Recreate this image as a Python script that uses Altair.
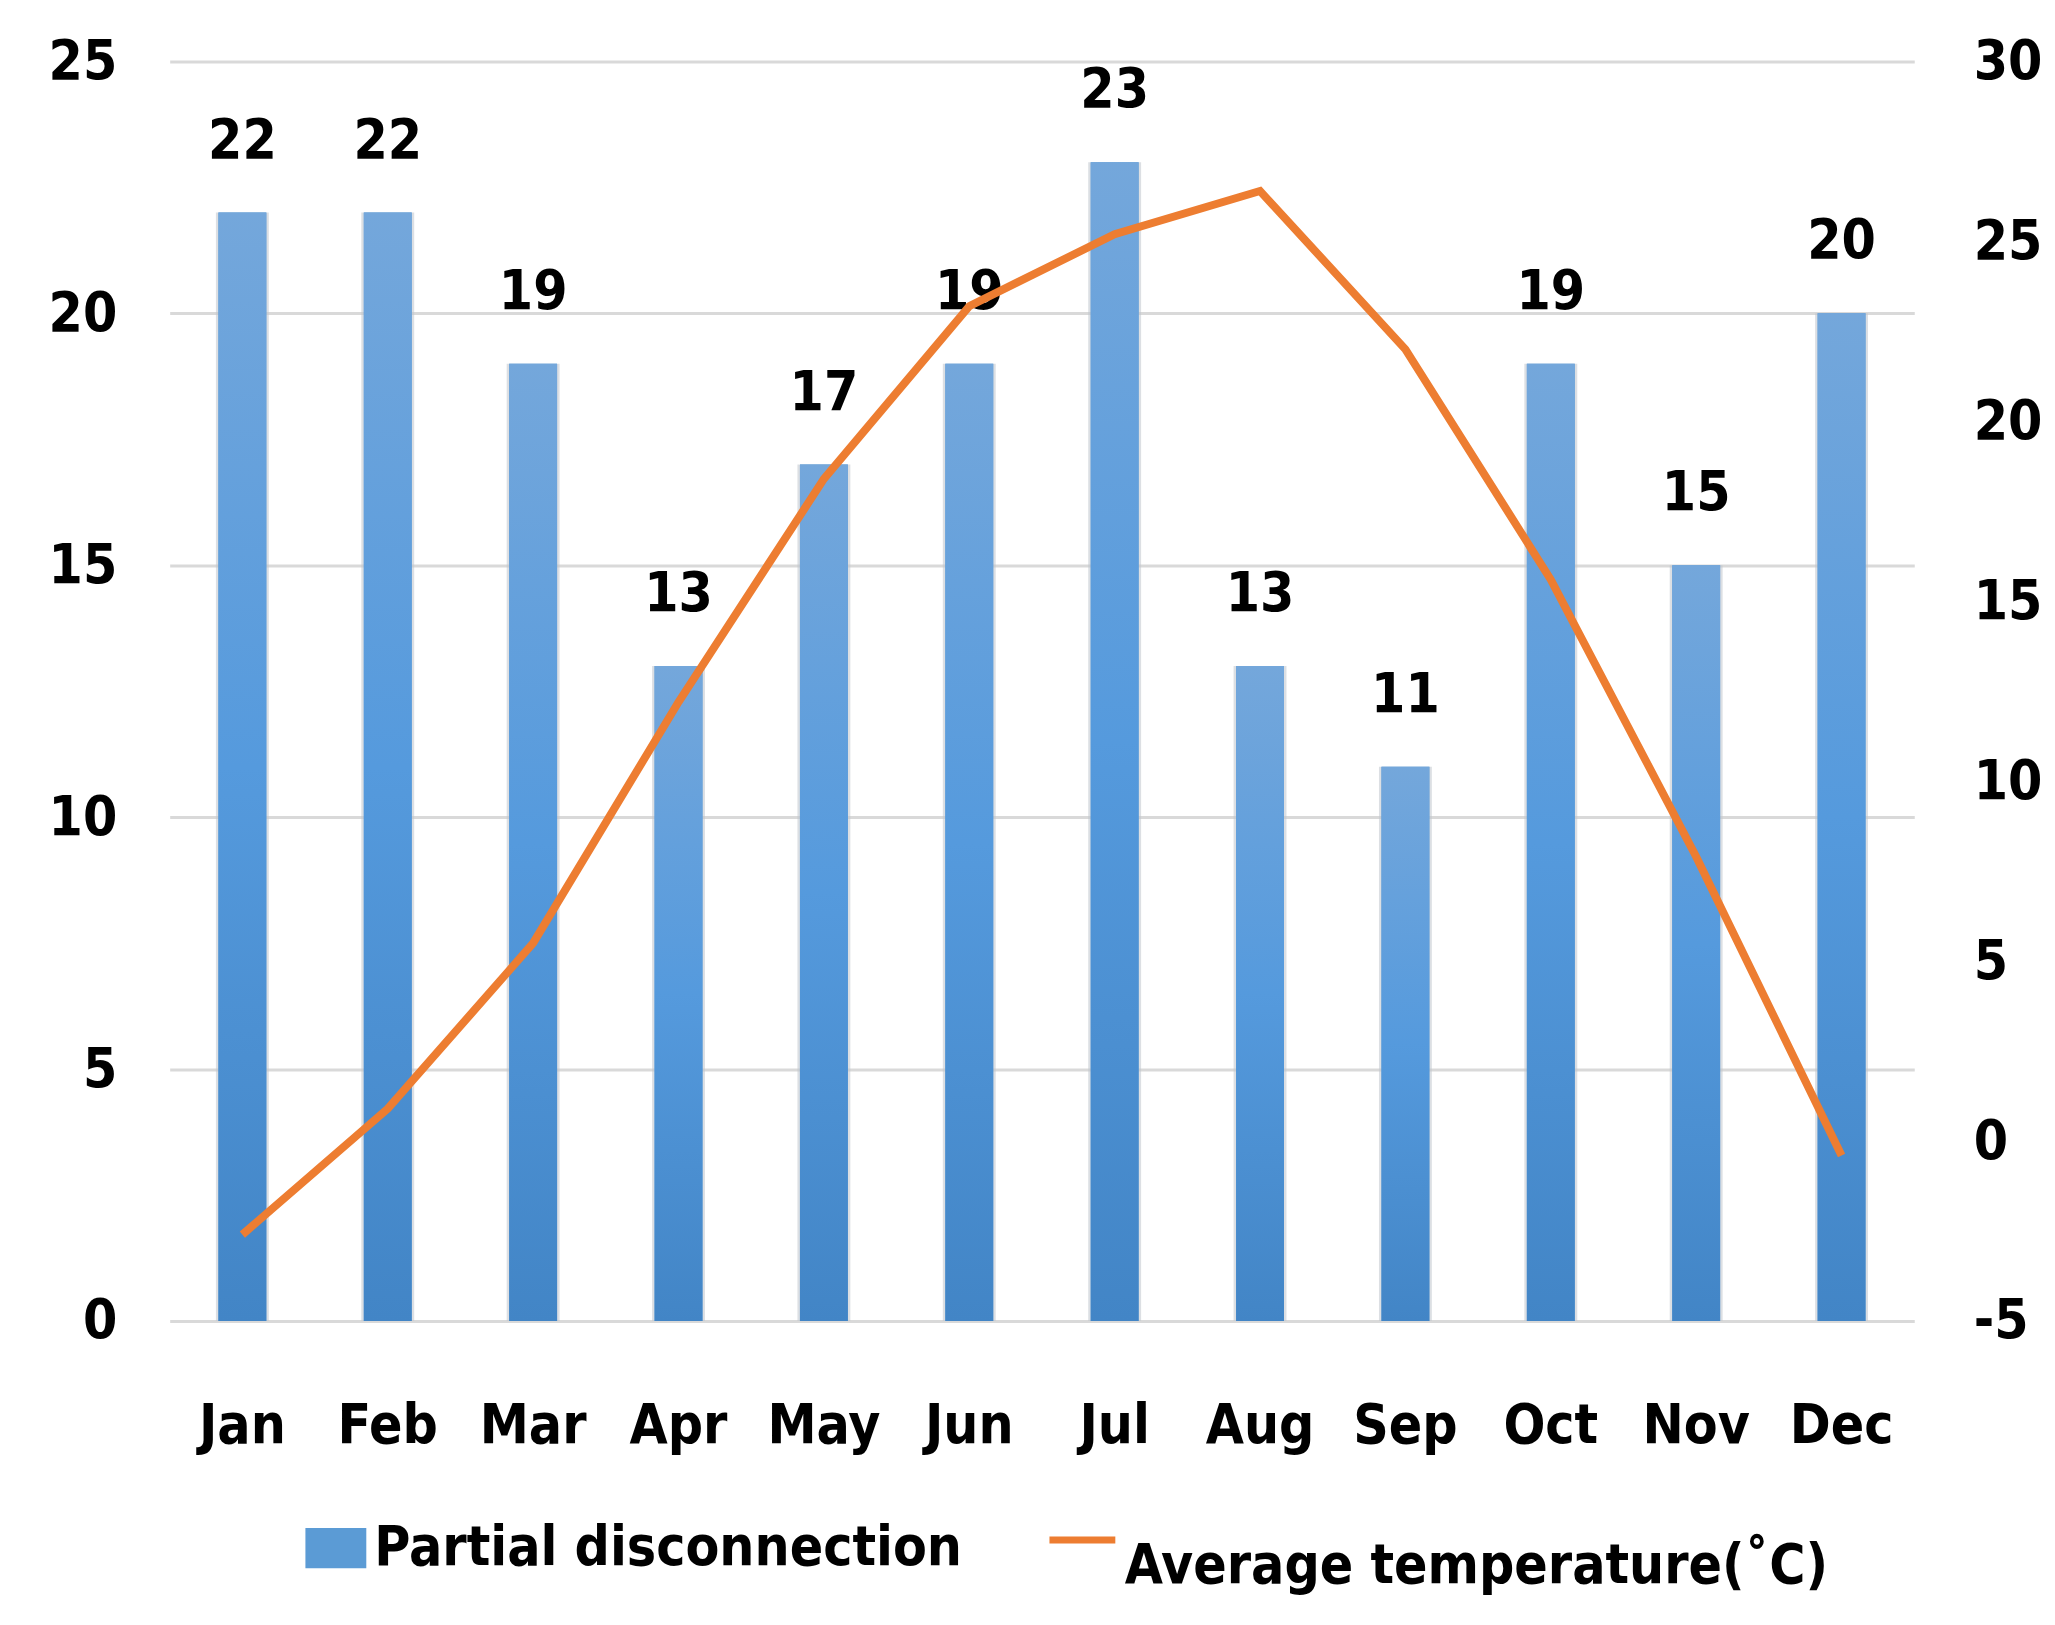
import altair as alt
import pandas as pd

months = ["Jan", "Feb", "Mar", "Apr", "May", "Jun", "Jul", "Aug", "Sep", "Oct", "Nov", "Dec"]
disconnections = [22, 22, 19, 13, 17, 19, 23, 13, 11, 19, 15, 20]
temperatures = [-2.6, 0.9, 5.5, 12.2, 18.4, 23.2, 25.2, 26.4, 22.0, 15.6, 7.9, -0.4]
left_ticks = [0, 5, 10, 15, 20, 25]
right_ticks = [-5, 0, 5, 10, 15, 20, 25, 30]
bar_series = "Partial disconnection"
line_series = "Average temperature(˚C)"

df = pd.DataFrame({
    "month": months,
    "count": disconnections,
    "temp": temperatures,
    "s1": [bar_series] * len(months),
    "s2": [line_series] * len(months),
})

FONT = "DejaVu Sans Condensed, DejaVu Sans, sans-serif"
FS = 55
FW = "bold"

x_enc = alt.X(
    "month:N", sort=months, title=None,
    scale=alt.Scale(paddingInner=0, paddingOuter=0),
    axis=alt.Axis(labelAngle=0, domain=False, ticks=False, labelPadding=79,
                  labelFont=FONT, labelFontSize=FS, labelFontWeight=FW,
                  labelColor="#000000", grid=False),
)

y_left = alt.Y(
    "count:Q", title=None,
    scale=alt.Scale(domain=[0, 25], nice=False, zero=True),
    axis=alt.Axis(values=left_ticks, grid=True, gridColor="#D9D9D9", gridWidth=3,
                  domain=False, ticks=False, labelPadding=53, minExtent=162,
                  labelFont=FONT, labelFontSize=FS, labelFontWeight=FW,
                  labelColor="#000000"),
)

base = alt.Chart(df).encode(x=x_enc)

shadow = base.mark_bar(size=53, color="#BFC5CC", opacity=0.55).encode(y=y_left)

bars_legend = base.mark_bar(size=48).encode(
    y=y_left,
    color=alt.Color(
        "s1:N",
        scale=alt.Scale(domain=[bar_series], range=["#5B9BD5"]),
        legend=alt.Legend(
            title=None, orient="none", legendX=136, legendY=1459,
            symbolType="M-1,-0.66H1V0.66H-1Z", symbolSize=3721,
            symbolStrokeWidth=0, labelOffset=8, padding=0,
            labelFont=FONT, labelFontSize=FS, labelFontWeight=FW,
            labelColor="#000000", labelLimit=1200,
        ),
    ),
)

grad = alt.Gradient(
    gradient="linear",
    stops=[
        alt.GradientStop(color="#74A7DB", offset=0),
        alt.GradientStop(color="#559ADD", offset=0.5),
        alt.GradientStop(color="#4285C6", offset=1),
    ],
    x1=0, x2=0, y1=0, y2=1,
)
bars = base.mark_bar(size=48, color=grad).encode(y=y_left)

labels = base.mark_text(
    dy=-72, baseline="middle", align="center", font=FONT, fontSize=FS,
    fontWeight=FW, color="#000000",
).encode(y=y_left, text="count:Q")

left_layer = alt.layer(shadow, bars_legend, bars, labels)

line = base.mark_line(strokeWidth=8, interpolate="linear").encode(
    y=alt.Y(
        "temp:Q", title=None,
        scale=alt.Scale(domain=[-5, 30], nice=False, zero=False),
        axis=alt.Axis(orient="right", values=right_ticks, grid=False, domain=False,
                      ticks=False, labelPadding=59, labelExpr="'' + datum.value",
                      labelFont=FONT, labelFontSize=FS, labelFontWeight=FW,
                      labelColor="#000000"),
    ),
    stroke=alt.Stroke(
        "s2:N",
        scale=alt.Scale(domain=[line_series], range=["#ED7D31"]),
        legend=alt.Legend(
            title=None, orient="none", legendX=878, legendY=1445,
            symbolType="stroke", symbolSize=4356, symbolStrokeWidth=7,
            labelOffset=6, padding=0, labelBaseline="top",
            labelFont=FONT, labelFontSize=FS, labelFontWeight=FW,
            labelColor="#000000", labelLimit=1200,
        ),
    ),
)

chart = (
    alt.layer(left_layer, line)
    .resolve_scale(y="independent", color="independent")
    .properties(
        width=1748, height=1262,
        padding={"left": 0, "top": 25, "right": 5, "bottom": 5},
        background="#FFFFFF",
    )
    .configure_view(stroke=None)
)

chart.save("out.html", embed_options={"renderer": "svg", "actions": False})
